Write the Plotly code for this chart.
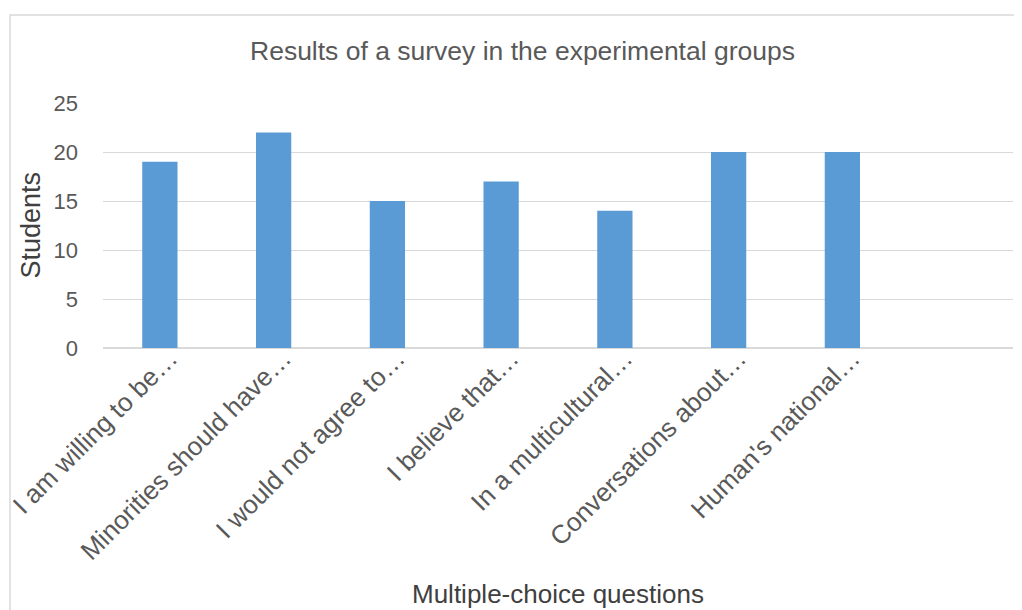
import plotly.graph_objects as go

categories = [
    "I am willing to be…",
    "Minorities should have…",
    "I would not agree to…",
    "I believe that…",
    "In a multicultural…",
    "Conversations about…",
    "Human's national…",
]
students = [19, 22, 15, 17, 14, 20, 20]
y_ticks = [0, 5, 10, 15, 20, 25]

OFF = 8  # default page body margin
W, H = 1022 - OFF, 610 - OFF
L, R, T, B = 95, 9, 95, 262
pw, ph = W - L - R, H - T - B

def px_x(x):  # window pixel -> paper
    return (x - OFF - L) / pw

def px_y(y):
    return (H - B - (y - OFF)) / ph

grey = "#595959"
font = "Liberation Sans, Arial, sans-serif"

fig = go.Figure(go.Bar(x=categories, y=students, marker=dict(color="#5B9BD5", line=dict(width=0))))

fig.update_layout(
    width=W, height=H,
    margin=dict(l=L, r=R, t=T, b=B, autoexpand=False),
    paper_bgcolor="white", plot_bgcolor="white",
    bargap=0.69,
    showlegend=False,
    font=dict(family=font, color=grey),
    title=dict(text="Results of a survey in the experimental groups", x=(522.5 - OFF) / W, xanchor="center",
               y=1 - (51 - OFF) / H, yanchor="middle", font=dict(size=26.5, color=grey)),
    xaxis=dict(type="category", range=[-0.5, 7.5], tickangle=-45, tickfont=dict(size=26, color=grey),
               showgrid=False, showline=False, ticks="", zeroline=False, automargin=False,
               ticklabelshift=10, ticklabelstandoff=-11),
    yaxis=dict(range=[0, 25], tickvals=y_ticks, tickfont=dict(size=22, color=grey),
               showgrid=True, gridcolor="#D9D9D9", gridwidth=1, zeroline=True, zerolinecolor="#D9D9D9",
               zerolinewidth=1.5, showline=False, ticks="", ticklabelstandoff=24, automargin=False),
    annotations=[
        dict(text="Students", xref="paper", yref="paper", x=px_x(30), y=0.5, textangle=-90,
             showarrow=False, font=dict(size=27, color="#404040"), xanchor="center", yanchor="middle"),
        dict(text="Multiple-choice questions", xref="paper", yref="paper", x=px_x(557.5), y=px_y(594),
             showarrow=False, font=dict(size=26, color="#404040"), xanchor="center", yanchor="middle"),
    ],
    shapes=[
        dict(type="rect", xref="paper", yref="paper", x0=px_x(10), x1=px_x(1040), y0=px_y(640), y1=px_y(15),
             line=dict(color="#D9D9D9", width=1.5), fillcolor="rgba(0,0,0,0)", layer="below"),
    ],
)

fig.write_html("out.html")
